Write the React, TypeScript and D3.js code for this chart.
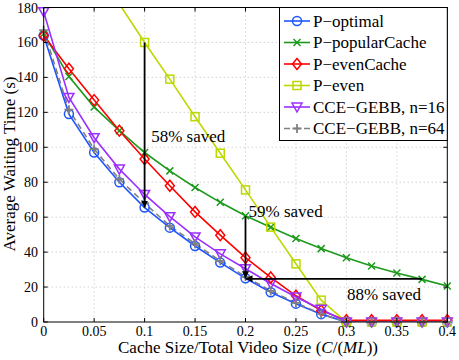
import React from "react";
import * as d3 from "d3";

const W = 459;
const H = 360;

const cacheSizes = [0, 0.025, 0.05, 0.075, 0.1, 0.125, 0.15, 0.175, 0.2, 0.225, 0.25, 0.275, 0.3, 0.325, 0.35, 0.375, 0.4];

const pOptimal = [164, 119, 97, 80, 65.5, 54, 43.5, 34, 25, 17, 10.5, 4.5, 0, 0, 0, 0, 0];
const pPopularCache = [165, 140.5, 123, 109.5, 97, 86.5, 77, 68.5, 60.8, 54.2, 47.8, 42, 36.8, 32, 28, 24.4, 20.6];
const pEvenCache = [164, 145, 127, 109.5, 93.3, 78, 63, 49.7, 36.8, 25.5, 15, 6.5, 1, 1, 1, 1, 1];
const pEven = [null, null, null, 182, 160, 139, 117.5, 96.6, 75.6, 54.3, 33.3, 12.5, 0, 0, 0, 0, 0];
const cce16 = [177.6, 128.5, 105.5, 87.5, 73, 60.3, 48.7, 39, 30.5, 22, 14.3, 7.3, 0, 0, 0, 0, 0];
const cce64 = [167, 121.5, 99, 81.7, 68, 55, 44.8, 35, 26, 17.8, 11, 4.6, 0, 0, 0, 0, 0];

const xTicks = [0, 0.05, 0.1, 0.15, 0.2, 0.25, 0.3, 0.35, 0.4];
const yTicks = [0, 20, 40, 60, 80, 100, 120, 140, 160, 180];

const series = [
  { name: "P\u2212optimal", values: pOptimal, color: "#1f55ff", marker: "circle", dash: null },
  { name: "P\u2212popularCache", values: pPopularCache, color: "#1d9a1d", marker: "x", dash: null },
  { name: "P\u2212evenCache", values: pEvenCache, color: "#ff0000", marker: "diamond", dash: null },
  { name: "P\u2212even", values: pEven, color: "#bcd800", marker: "square", dash: null },
  { name: "CCE\u2212GEBB, n=16", values: cce16, color: "#9b2fff", marker: "triangle", dash: null },
  { name: "CCE\u2212GEBB, n=64", values: cce64, color: "#808080", marker: "plus", dash: "6,4" },
];

// arrows in data units: from -> to
const arrows = [
  { x1: 0.1, y1: 160, x2: 0.1, y2: 65.5 },
  { x1: 0.2, y1: 60.5, x2: 0.2, y2: 25 },
  { x1: 0.375, y1: 24.7, x2: 0.2, y2: 24.7 },
];
const notes = [
  { text: "58% saved", x: 0.1065, y: 106 },
  { text: "59% saved", x: 0.203, y: 63 },
  { text: "88% saved", x: 0.3005, y: 15.5 },
];

const FONT = '"Liberation Serif"';

const Marker = ({ type, x, y, color }) => {
  const s = 4.5;
  switch (type) {
    case "circle":
      return <circle cx={x} cy={y} r={4.5} fill="none" stroke={color} strokeWidth={1.5} />;
    case "x":
      return (
        <path d={`M${x - 3.5},${y - 3.5}L${x + 3.5},${y + 3.5}M${x - 3.5},${y + 3.5}L${x + 3.5},${y - 3.5}`} stroke={color} strokeWidth={1.5} />
      );
    case "plus":
      return <path d={`M${x - s},${y}L${x + s},${y}M${x},${y - s}L${x},${y + s}`} stroke={color} strokeWidth={1.8} />;
    case "diamond":
      return (
        <path d={`M${x},${y - 5.5}L${x + 4.5},${y}L${x},${y + 5.5}L${x - 4.5},${y}Z`} fill="none" stroke={color} strokeWidth={1.5} />
      );
    case "square":
      return <rect x={x - 4} y={y - 4} width={8} height={8} fill="none" stroke={color} strokeWidth={1.5} />;
    case "triangle":
      return (
        <path d={`M${x - 5},${y - 4}L${x + 5},${y - 4}L${x},${y + 5}Z`} fill="none" stroke={color} strokeWidth={1.5} />
      );
    default:
      return null;
  }
};

export default function App() {
  const left = 43.7, right = 447.3, top = 7.5, bottom = 322;
  const x = d3.scaleLinear().domain([0, 0.4]).range([left, right]);
  const y = d3.scaleLinear().domain([0, 180]).range([bottom, top]);

  const line = d3
    .line<number | null>()
    .defined((d) => d !== null)
    .x((_, i) => x(cacheSizes[i]))
    .y((d) => y(d as number));

  const legX = 279.5, legY = 7.5, legW = right - 279.5, legH = 133;
  const tf = { fontFamily: FONT };

  return (
    <svg width={W} height={H} style={{ position: "absolute", left: 0, top: 0, fontFamily: FONT }}>
      <defs>
        <clipPath id="plot">
          <rect x={left} y={top} width={right - left} height={bottom - top} />
        </clipPath>
        <marker id="ah" viewBox="0 0 10 10" refX={10} refY={5} markerWidth={7} markerHeight={8} orient="auto" markerUnits="userSpaceOnUse">
          <path d="M0,0L10,5L0,10Z" fill="#000" />
        </marker>
      </defs>
      <rect x={0} y={0} width={W} height={H} fill="#fff" />

      {/* grid */}
      {xTicks.slice(1, -1).map((t) => (
        <line key={"gx" + t} x1={x(t)} x2={x(t)} y1={top} y2={bottom} stroke="#bdbdbd" strokeWidth={1} strokeDasharray="1,3" />
      ))}
      {yTicks.slice(1, -1).map((t) => (
        <line key={"gy" + t} x1={left} x2={right} y1={y(t)} y2={y(t)} stroke="#bdbdbd" strokeWidth={1} strokeDasharray="1,3" />
      ))}

      {/* series */}
      <g clipPath="url(#plot)">
        {series.map((s) => (
          <path key={s.name} d={line(s.values) || ""} fill="none" stroke={s.color} strokeWidth={1.6} strokeDasharray={s.dash || undefined} />
        ))}
      </g>
      {series.map((s) =>
        s.values.map((v, i) =>
          v === null || v > 180 ? null : (
            <Marker key={s.name + i} type={s.marker} x={x(cacheSizes[i])} y={y(v)} color={s.color} />
          )
        )
      )}

      {/* axes box and ticks */}
      <rect x={left} y={top} width={right - left} height={bottom - top} fill="none" stroke="#000" strokeWidth={1} />
      {xTicks.map((t) => (
        <g key={"tx" + t}>
          <line x1={x(t)} x2={x(t)} y1={bottom} y2={bottom - 4} stroke="#000" />
          <line x1={x(t)} x2={x(t)} y1={top} y2={top + 4} stroke="#000" />
          <text x={x(t)} y={336} fontSize={14} textAnchor="middle" style={tf}>{t}</text>
        </g>
      ))}
      {yTicks.map((t) => (
        <g key={"ty" + t}>
          <line x1={left} x2={left + 4} y1={y(t)} y2={y(t)} stroke="#000" />
          <line x1={right} x2={right - 4} y1={y(t)} y2={y(t)} stroke="#000" />
          <text x={38} y={y(t) + 5} fontSize={14} textAnchor="end" style={tf}>{t}</text>
        </g>
      ))}

      {/* annotations */}
      {arrows.map((a, i) => (
        <line key={"ar" + i} x1={x(a.x1)} y1={y(a.y1)} x2={x(a.x2)} y2={y(a.y2)} stroke="#000" strokeWidth={1.8} markerEnd="url(#ah)" />
      ))}
      {notes.map((n) => (
        <text key={n.text} x={x(n.x)} y={y(n.y) + 5} fontSize={17} style={tf}>{n.text}</text>
      ))}

      {/* axis labels */}
      <text x={248} y={353} fontSize={17} textAnchor="middle" style={tf}>
        Cache Size/Total Video Size (<tspan fontStyle="italic">C</tspan>/(<tspan fontStyle="italic">ML</tspan>))
      </text>
      <text transform={`translate(15,164) rotate(-90)`} fontSize={17} textAnchor="middle" style={tf}>
        Average Waiting Time (s)
      </text>

      {/* legend */}
      <rect x={legX} y={legY} width={legW} height={legH} fill="#fff" stroke="#000" strokeWidth={1} />
      {series.map((s, i) => {
        const ly = 21 + i * 21.5;
        return (
          <g key={"lg" + s.name}>
            <line x1={284} x2={310} y1={ly} y2={ly} stroke={s.color} strokeWidth={1.6} strokeDasharray={s.dash || undefined} />
            <Marker type={s.marker} x={297} y={ly} color={s.color} />
            <text x={313} y={ly + 5.5} fontSize={17} style={tf}>{s.name}</text>
          </g>
        );
      })}
    </svg>
  );
}
